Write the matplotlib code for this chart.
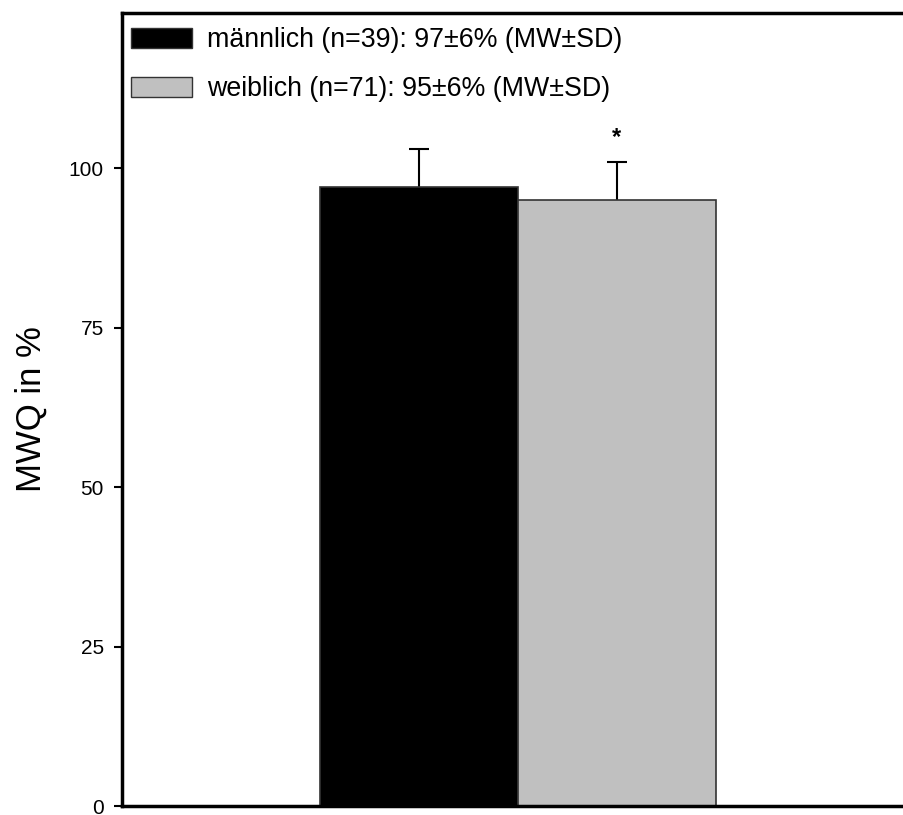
import matplotlib
matplotlib.use("Agg")
import matplotlib.pyplot as plt
from matplotlib.patches import Patch

labels = ["männlich (n=39): 97±6% (MW±SD)", "weiblich (n=71): 95±6% (MW±SD)"]
means = [97, 95]
sds = [6, 6]
colors = ["#000000", "#c0c0c0"]
yticks = [0, 25, 50, 75, 100]

plt.rcParams['font.family'] = ['Liberation Sans', 'DejaVu Sans']
fig = plt.figure(figsize=(9.04, 8.15), dpi=100)
W, H = 904, 815
left, right, top, bottom = 122, 914, 13, 806
ax = fig.add_axes([left / W, 1 - bottom / H, (right - left) / W, (bottom - top) / H])

xs = [0, 1]
for x, m, s, c in zip(xs, means, sds, colors):
    ax.bar(x, m, width=1.0, color=c, edgecolor="#333333", linewidth=1.2, zorder=2)
    ax.errorbar(x, m, yerr=s, fmt="none", ecolor="black", elinewidth=1.5,
                capsize=7, capthick=1.5, zorder=1)
ax.text(1, means[1] + sds[1] + 3.8, "*", ha="center", va="center", fontsize=17, fontweight="bold")

ax.set_xlim(-1.5, 2.5)
ax.set_ylim(0, 124.3)
ax.set_yticks(yticks)
ax.set_yticklabels([str(t) for t in yticks], fontsize=15)
ax.set_xticks([])
ax.tick_params(axis="y", direction="out", length=6, width=1.5, pad=7)
for sp in ax.spines.values():
    sp.set_linewidth(2.5)
ax.set_ylabel("MWQ in %", fontsize=25, labelpad=15)

handles = [Patch(facecolor=c, edgecolor="#333333", linewidth=1) for c in colors]
leg = ax.legend(handles, labels, loc="upper left", bbox_to_anchor=(0.0114, 0.982),
                frameon=False, fontsize=19.3, handlelength=2.28, handleheight=0.76,
                handletextpad=0.57, labelspacing=0.85, borderaxespad=0.0, borderpad=0.0)

fig.savefig("out.png", dpi=100)
